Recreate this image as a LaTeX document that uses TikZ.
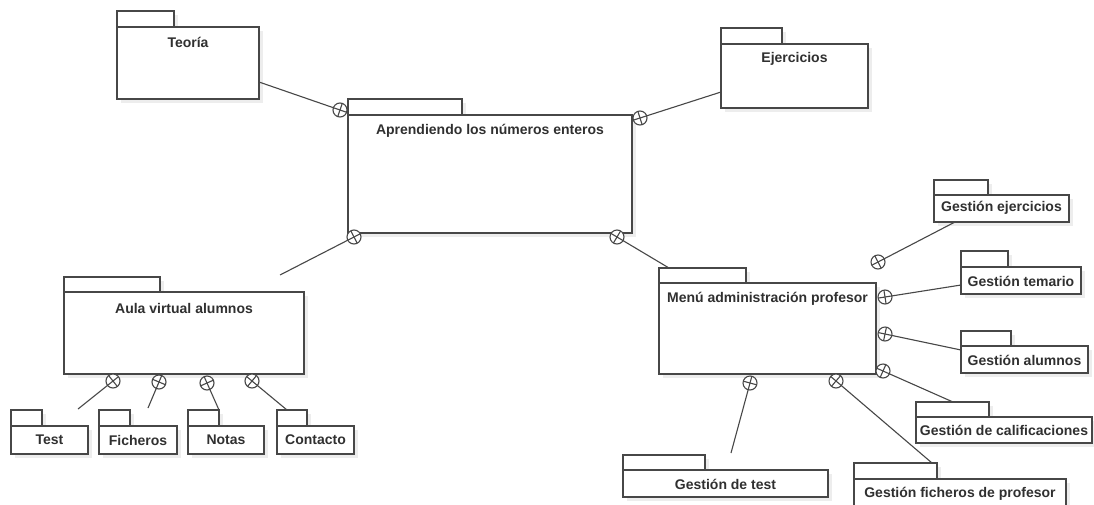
\documentclass[tikz,border=0pt]{standalone}
\usepackage{fontspec}
\setmainfont{Liberation Sans}
\usetikzlibrary{calc,fit}

\definecolor{edge}{HTML}{474747}
\definecolor{ink}{HTML}{303030}
\definecolor{shade}{HTML}{EDEDED}

\tikzset{
  pkgbox/.style={draw=edge, line width=1.5pt, fill=white, inner sep=0pt, outer sep=0pt},
  pkgshadow/.style={fill=shade},
  pkglabel/.style={text=ink, font=\fontsize{14}{16}\selectfont\bfseries, inner sep=0pt},
  nestline/.style={draw=edge, line width=1.1pt},
}

% UML package: #1 name, #2 left, #3 tab top, #4 body top, #5 right,
% #6 bottom, #7 tab right, #8 label baseline centre y, #9 label
\newcommand{\umlpkg}[9]{%
  \fill[pkgshadow] (#2+4,#3+4) rectangle (#7+4,#4+4);
  \fill[pkgshadow] (#2+4,#4+4) rectangle (#5+4,#6+4);
  \node[pkgbox, fit={(#2,#3) (#7,#4)}] (#1tab) {};
  \node[pkgbox, fit={(#2,#4) (#5,#6)}] (#1) {};
  \node[pkglabel] (#1label) at ({(#2+#5)/2},#8) {#9};
}

% containment link: #1 circle centre, #2 other end
\newcommand{\nestlink}[2]{%
  \draw[nestline] ($(#1)!7pt!(#2)$) -- (#2);
  \draw[nestline, fill=white] (#1) circle[radius=7pt];
  \draw[nestline] ($(#1)!7pt!(#2)$) -- ($(#1)!7pt!180:(#2)$);
  \draw[nestline] ($(#1)!7pt!90:(#2)$) -- ($(#1)!7pt!-90:(#2)$);
}

\begin{document}
\begin{tikzpicture}[x=1pt, y=-1pt]
\useasboundingbox (0,0) rectangle (1094,504);
\clip (0,0) rectangle (1094,504);
\fill[white] (0,0) rectangle (1094,504);

% packages
\umlpkg{teoria}{117}{11}{27}{259}{99}{174}{42}{Teoría}
\umlpkg{main}{348}{99}{115}{632}{233}{462}{131}{Aprendiendo los números enteros}
\umlpkg{ejer}{721}{28}{44}{868}{108}{782}{59}{Ejercicios}
\umlpkg{aula}{64}{277}{292}{304}{374}{160}{308}{Aula virtual alumnos}
\umlpkg{test}{11}{410}{426}{88}{454}{42}{440}{Test}
\umlpkg{fich}{99}{410}{426}{177}{454}{130}{440}{Ficheros}
\umlpkg{notas}{188}{410}{426}{264}{454}{219}{440}{Notas}
\umlpkg{contacto}{277}{410}{426}{354}{454}{307}{440}{Contacto}
\umlpkg{menu}{659}{268}{283}{876}{374}{746}{299}{Menú administración profesor}
\umlpkg{gej}{934}{180}{195}{1069}{222}{988}{208}{Gestión ejercicios}
\umlpkg{gtem}{961}{251}{267}{1081}{294}{1008}{281}{Gestión temario}
\umlpkg{galu}{961}{331}{346}{1088}{373}{1011}{360}{Gestión alumnos}
\umlpkg{gcal}{916}{402}{417}{1092}{443}{989}{430}{Gestión de calificaciones}
\umlpkg{gtest}{623}{455}{470}{828}{497}{705}{484}{Gestión de test}
\umlpkg{gfich}{854}{463}{479}{1066}{512}{937}{494}{Gestión ficheros de profesor}

% link ends
\coordinate (cTeoria) at (340,110);  \coordinate (eTeoria) at (teoria.east |- 0,82);
\coordinate (cEjer) at (640,118);    \coordinate (eEjer) at (ejer.west |- 0,92);
\coordinate (cAula) at (354,237);    \coordinate (eAula) at (280,275);
\coordinate (cMenu) at (617,237);    \coordinate (eMenu) at (669,268);
\coordinate (cTest) at (113,381);    \coordinate (eTest) at (78,409);
\coordinate (cFich) at (159,382);    \coordinate (eFich) at (148,408);
\coordinate (cNotas) at (207,383);   \coordinate (eNotas) at (notastab.north east);
\coordinate (cCont) at (252,381);    \coordinate (eCont) at (287,410);
\coordinate (cGej) at (878,262);     \coordinate (eGej) at (955,222);
\coordinate (cGtem) at (885,297);    \coordinate (eGtem) at (gtem.west |- 0,285);
\coordinate (cGalu) at (885,334);    \coordinate (eGalu) at (galu.west |- 0,350);
\coordinate (cGcal) at (883,371);    \coordinate (eGcal) at (953,402);
\coordinate (cGtest) at (750,383);   \coordinate (eGtest) at (731,453);
\coordinate (cGfich) at (836,381);   \coordinate (eGfich) at (932,463);

% containment links
\nestlink{cTeoria}{eTeoria}
\nestlink{cEjer}{eEjer}
\nestlink{cAula}{eAula}
\nestlink{cMenu}{eMenu}
\nestlink{cTest}{eTest}
\nestlink{cFich}{eFich}
\nestlink{cNotas}{eNotas}
\nestlink{cCont}{eCont}
\nestlink{cGej}{eGej}
\nestlink{cGtem}{eGtem}
\nestlink{cGalu}{eGalu}
\nestlink{cGcal}{eGcal}
\nestlink{cGtest}{eGtest}
\nestlink{cGfich}{eGfich}
\end{tikzpicture}
\end{document}
